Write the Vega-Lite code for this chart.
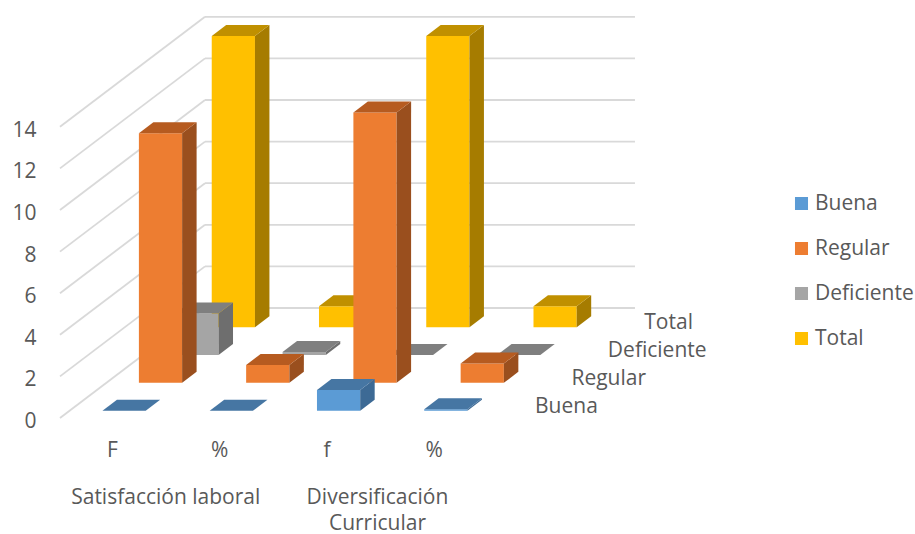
{"$schema":"https://vega.github.io/schema/vega-lite/v6.json","width":855,"height":534,"autosize":{"type":"none"},"padding":{"left":60,"top":0,"right":0,"bottom":0},"background":"white","config":{"view":{"stroke":null},"font":"Open Sans"},
"resolve":{"axis":{"y":"independent","x":"independent"}},
"data":{"values":[
{"variable":"Satisfacción laboral","medida":"F","serie":"Buena","valor":0},
{"variable":"Satisfacción laboral","medida":"F","serie":"Regular","valor":12},
{"variable":"Satisfacción laboral","medida":"F","serie":"Deficiente","valor":2},
{"variable":"Satisfacción laboral","medida":"F","serie":"Total","valor":14},
{"variable":"Satisfacción laboral","medida":"%","serie":"Buena","valor":0},
{"variable":"Satisfacción laboral","medida":"%","serie":"Regular","valor":0.86},
{"variable":"Satisfacción laboral","medida":"%","serie":"Deficiente","valor":0.14},
{"variable":"Satisfacción laboral","medida":"%","serie":"Total","valor":1},
{"variable":"Diversificación Curricular","medida":"f","serie":"Buena","valor":1},
{"variable":"Diversificación Curricular","medida":"f","serie":"Regular","valor":13},
{"variable":"Diversificación Curricular","medida":"f","serie":"Deficiente","valor":0},
{"variable":"Diversificación Curricular","medida":"f","serie":"Total","valor":14},
{"variable":"Diversificación Curricular","medida":"%","serie":"Buena","valor":0.07},
{"variable":"Diversificación Curricular","medida":"%","serie":"Regular","valor":0.93},
{"variable":"Diversificación Curricular","medida":"%","serie":"Deficiente","valor":0},
{"variable":"Diversificación Curricular","medida":"%","serie":"Total","valor":1}
]},
"transform":[
{"calculate":"(datum.variable==='Satisfacción laboral'?0:2)+(datum.medida==='%'?1:0)","as":"c"},
{"calculate":"indexof(['Buena','Regular','Deficiente','Total'],datum.serie)","as":"d"},
{"calculate":"datum.c+0.3396*datum.d","as":"x0"},
{"calculate":"datum.x0+0.403","as":"x1"},
{"calculate":"0.35+1.339*datum.d","as":"y0"},
{"calculate":"datum.y0+datum.valor","as":"y1"}
],
"layer":[
{"data":{"values":[{"v":0},{"v":2},{"v":4},{"v":6},{"v":8},{"v":10},{"v":12},{"v":14}]},
 "transform":[{"calculate":"datum.v+5.288","as":"vb"},{"calculate":"-0.396","as":"xf"},{"calculate":"0.956","as":"xb"},{"calculate":"4.965","as":"xr"}],
 "resolve":{"axis":{"y":"independent","x":"independent"}},
 "layer":[
 {"mark":{"type":"rule","color":"#D9D9D9","strokeWidth":1.8},"encoding":{"x":{"field":"xf","type":"quantitative","scale":{"domain":[-0.396,7.576],"nice":false,"zero":false},"axis":null},"x2":{"field":"xb"},
  "y":{"field":"v","type":"quantitative","scale":{"domain":[-5.577,20.096],"nice":false,"zero":false},"axis":{"title":null,"values":[0,2,4,6,8,10,12,14],"grid":false,"domain":false,"ticks":false,"labelPadding":24,"labelOffset":3.5,"labelFontSize":21,"labelColor":"#595959","labelFont":"Open Sans"}},"y2":{"field":"vb"}}},
 {"mark":{"type":"rule","color":"#D9D9D9","strokeWidth":1.8},"encoding":{"x":{"field":"xb","type":"quantitative","axis":null},"x2":{"field":"xr"},"y":{"field":"vb","type":"quantitative","axis":null}}}
 ]},
{"transform":[{"filter":"datum.serie==='Total'"}],"layer":[
 {"mark":"rect","encoding":{"x":{"field":"x0","type":"quantitative","axis":null},"x2":{"field":"x1"},"y":{"field":"y0","type":"quantitative","axis":null},"y2":{"field":"y1"},"color":{"field":"serie","type":"nominal","scale":{"domain":["Buena","Regular","Deficiente","Total"],"range":["#5B9BD5","#ED7D31","#A5A5A5","#FFC000"]},"legend":{"title":null,"orient":"none","legendX":731,"legendY":190,"symbolType":"square","symbolSize":170,"symbolStrokeWidth":0,"labelFontSize":21,"labelColor":"#595959","labelFont":"Open Sans","rowPadding":18,"labelOffset":3,"clipHeight":27}}}},
 {"transform":[{"fold":["x0","x1"],"as":["k","kv"]},{"calculate":"datum.k==='x0'?0:1","as":"t"},{"calculate":"datum.x1+datum.t*0.135","as":"sx"},{"calculate":"datum.y0+datum.t*0.53","as":"sy0"},{"calculate":"datum.y1+datum.t*0.53","as":"sy1"},{"calculate":"datum.x0+datum.t*0.135","as":"tx0"},{"calculate":"datum.x1+datum.t*0.135","as":"tx1"}],"layer":[
  {"mark":{"type":"area","color":"#A67C00","orient":"vertical"},"encoding":{"x":{"field":"sx","type":"quantitative","axis":null},"y":{"field":"sy1","type":"quantitative","axis":null},"y2":{"field":"sy0"},"detail":{"field":"c"}}},
  {"mark":{"type":"area","color":"#C09000","orient":"horizontal"},"encoding":{"y":{"field":"sy1","type":"quantitative","axis":null},"x":{"field":"tx0","type":"quantitative","axis":null},"x2":{"field":"tx1"},"detail":{"field":"c"}}}
 ]}
]},
{"transform":[{"filter":"datum.serie==='Deficiente'"}],"layer":[
 {"mark":"rect","encoding":{"x":{"field":"x0","type":"quantitative","axis":null},"x2":{"field":"x1"},"y":{"field":"y0","type":"quantitative","axis":null},"y2":{"field":"y1"},"color":{"field":"serie","type":"nominal"}}},
 {"transform":[{"fold":["x0","x1"],"as":["k","kv"]},{"calculate":"datum.k==='x0'?0:1","as":"t"},{"calculate":"datum.x1+datum.t*0.135","as":"sx"},{"calculate":"datum.y0+datum.t*0.53","as":"sy0"},{"calculate":"datum.y1+datum.t*0.53","as":"sy1"},{"calculate":"datum.x0+datum.t*0.135","as":"tx0"},{"calculate":"datum.x1+datum.t*0.135","as":"tx1"}],"layer":[
  {"mark":{"type":"area","color":"#6E6E6E","orient":"vertical"},"encoding":{"x":{"field":"sx","type":"quantitative","axis":null},"y":{"field":"sy1","type":"quantitative","axis":null},"y2":{"field":"sy0"},"detail":{"field":"c"}}},
  {"mark":{"type":"area","color":"#7F7F7F","orient":"horizontal"},"encoding":{"y":{"field":"sy1","type":"quantitative","axis":null},"x":{"field":"tx0","type":"quantitative","axis":null},"x2":{"field":"tx1"},"detail":{"field":"c"}}}
 ]}
]},
{"transform":[{"filter":"datum.serie==='Regular'"}],"layer":[
 {"mark":"rect","encoding":{"x":{"field":"x0","type":"quantitative","axis":null},"x2":{"field":"x1"},"y":{"field":"y0","type":"quantitative","axis":null},"y2":{"field":"y1"},"color":{"field":"serie","type":"nominal"}}},
 {"transform":[{"fold":["x0","x1"],"as":["k","kv"]},{"calculate":"datum.k==='x0'?0:1","as":"t"},{"calculate":"datum.x1+datum.t*0.135","as":"sx"},{"calculate":"datum.y0+datum.t*0.53","as":"sy0"},{"calculate":"datum.y1+datum.t*0.53","as":"sy1"},{"calculate":"datum.x0+datum.t*0.135","as":"tx0"},{"calculate":"datum.x1+datum.t*0.135","as":"tx1"}],"layer":[
  {"mark":{"type":"area","color":"#9A4F1E","orient":"vertical"},"encoding":{"x":{"field":"sx","type":"quantitative","axis":null},"y":{"field":"sy1","type":"quantitative","axis":null},"y2":{"field":"sy0"},"detail":{"field":"c"}}},
  {"mark":{"type":"area","color":"#B65B20","orient":"horizontal"},"encoding":{"y":{"field":"sy1","type":"quantitative","axis":null},"x":{"field":"tx0","type":"quantitative","axis":null},"x2":{"field":"tx1"},"detail":{"field":"c"}}}
 ]}
]},
{"transform":[{"filter":"datum.serie==='Buena'"}],"layer":[
 {"mark":"rect","encoding":{"x":{"field":"x0","type":"quantitative","axis":null},"x2":{"field":"x1"},"y":{"field":"y0","type":"quantitative","axis":null},"y2":{"field":"y1"},"color":{"field":"serie","type":"nominal"}}},
 {"transform":[{"fold":["x0","x1"],"as":["k","kv"]},{"calculate":"datum.k==='x0'?0:1","as":"t"},{"calculate":"datum.x1+datum.t*0.135","as":"sx"},{"calculate":"datum.y0+datum.t*0.53","as":"sy0"},{"calculate":"datum.y1+datum.t*0.53","as":"sy1"},{"calculate":"datum.x0+datum.t*0.135","as":"tx0"},{"calculate":"datum.x1+datum.t*0.135","as":"tx1"}],"layer":[
  {"mark":{"type":"area","color":"#3D6A95","orient":"vertical"},"encoding":{"x":{"field":"sx","type":"quantitative","axis":null},"y":{"field":"sy1","type":"quantitative","axis":null},"y2":{"field":"sy0"},"detail":{"field":"c"}}},
  {"mark":{"type":"area","color":"#4676A3","orient":"horizontal"},"encoding":{"y":{"field":"sy1","type":"quantitative","axis":null},"x":{"field":"tx0","type":"quantitative","axis":null},"x2":{"field":"tx1"},"detail":{"field":"c"}}}
 ]}
]},
{"transform":[{"filter":"datum.d===0"},{"calculate":"datum.c+0.0932","as":"lx"},{"calculate":"-1.6","as":"ly"}],"mark":{"type":"text","fontSize":21,"color":"#595959","align":"center","baseline":"middle"},"encoding":{"x":{"field":"lx","type":"quantitative","axis":null},"y":{"field":"ly","type":"quantitative","axis":null},"text":{"field":"medida"}}},
{"transform":[{"filter":"datum.d===0 && (datum.c===0 || datum.c===2)"},{"calculate":"replace(datum.variable,'Diversificación ','Diversificación\\n')","as":"lab"},{"calculate":"datum.c===0?0.59:2.564","as":"lx"},{"calculate":"-3.32","as":"ly"}],"mark":{"type":"text","fontSize":21,"color":"#595959","align":"center","baseline":"top","lineBreak":"\n","lineHeight":26},"encoding":{"x":{"field":"lx","type":"quantitative","axis":null},"y":{"field":"ly","type":"quantitative","axis":null},"text":{"field":"lab"}}},
{"transform":[{"filter":"datum.c===0"},{"calculate":"4.033+0.3396*datum.d","as":"lx"},{"calculate":"0.54+1.342*datum.d","as":"ly"}],"mark":{"type":"text","fontSize":21,"color":"#595959","align":"left","baseline":"middle"},"encoding":{"x":{"field":"lx","type":"quantitative","axis":null},"y":{"field":"ly","type":"quantitative","axis":null},"text":{"field":"serie"}}}
]}
